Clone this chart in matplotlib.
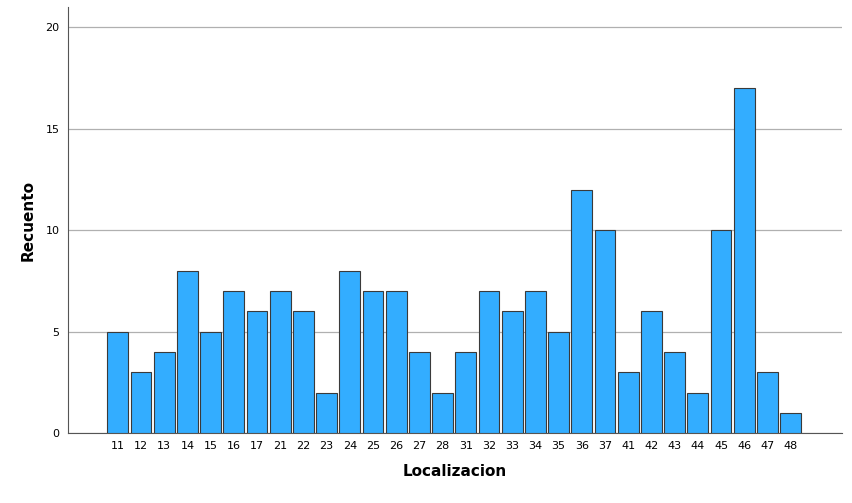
import numpy as np
import matplotlib.pyplot as plt

categorias = ['11', '12', '13', '14', '15', '16', '17', '21', '22', '23',
              '24', '25', '26', '27', '28', '31', '32', '33', '34', '35',
              '36', '37', '41', '42', '43', '44', '45', '46', '47', '48']
recuento = [5, 3, 4, 8, 5, 7, 6, 7, 6, 2,
            8, 7, 7, 4, 2, 4, 7, 6, 7, 5,
            12, 10, 3, 6, 4, 2, 10, 17, 3, 1]
yticks = [0, 5, 10, 15, 20]

fig = plt.figure(figsize=(8.53, 5.03), dpi=100)
ax = fig.add_axes([0.0797, 0.139, 0.907, 0.847])

x = np.arange(len(categorias))
ax.bar(x, recuento, width=0.9, color='#33adff', edgecolor='#3a3a3a',
       linewidth=0.8, zorder=3)

ax.set_xlim(-2.15, len(categorias) - 1 + 2.2)
ax.set_ylim(0, 21)
ax.set_xticks(x)
ax.set_xticklabels(categorias)
ax.set_yticks(yticks)
ax.tick_params(length=0, labelsize=8, pad=6)
ax.grid(axis='y', color='#b0b0b0', linewidth=0.9, zorder=0)

for s in ['top', 'right']:
    ax.spines[s].set_visible(False)
ax.spines['left'].set_color('#555555')
ax.spines['bottom'].set_color('#555555')

ax.set_xlabel('Localizacion', fontsize=11, fontweight='bold', labelpad=9)
ax.set_ylabel('Recuento', fontsize=11, fontweight='bold', labelpad=7)

fig.savefig('out.png', dpi=100)
